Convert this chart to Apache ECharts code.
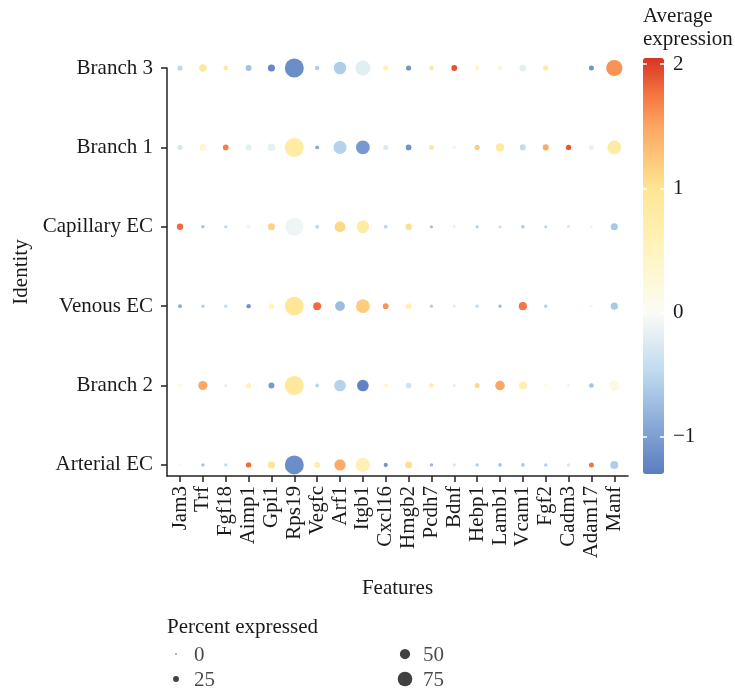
<!DOCTYPE html>
<html>
<head>
<meta charset="utf-8">
<script src="https://cdn.jsdelivr.net/npm/echarts@6/dist/echarts.min.js"></script>
<style>
  html, body { margin: 0; padding: 0; background: #fff; }
  #chart { width: 735px; height: 691px; }
</style>
</head>
<body>
<div id="chart"></div>
<script>
// Genes along the x axis, cell groups along the y axis (bottom to top)
const features = ['Jam3','Trf','Fgf18','Aimp1','Gpi1','Rps19','Vegfc','Arf1','Itgb1','Cxcl16',
                  'Hmgb2','Pcdh7','Bdnf','Hebp1','Lamb1','Vcam1','Fgf2','Cadm3','Adam17','Manf'];
const identities = ['Arterial EC','Branch 2','Venous EC','Capillary EC','Branch 1','Branch 3'];

// Percent of cells expressing each gene, per identity
const pctArterial  = [12,10,9,22,31,100,25,56,74,15,30,11,9,11,12,12,11,9,20,37];
const pctBranch2   = [14,44,9,20,26,100,14,58,58,14,24,17,9,20,46,38,10,8,18,53];
const pctVenous    = [13,10,9,17,24,98,37,47,70,24,25,10,8,10,9,38,10,4,8,32];
const pctCapillary = [28,11,10,14,32,95,14,53,63,14,28,10,8,10,10,12,10,8,8,32];
const pctBranch1   = [20,30,24,24,35,100,14,67,70,20,24,20,10,21,38,26,26,21,20,70];
const pctBranch3   = [21,35,17,25,32,100,17,63,77,21,21,17,25,16,20,30,20,3,20,84];

// Average scaled expression, per identity
const avgArterial  = [0.15,-0.7,-0.5,1.8,1.0,-1.15,0.75,1.45,0.6,-1.1,1.05,-0.8,-0.3,-0.6,-0.7,-0.65,-0.6,-0.3,1.75,-0.6];
const avgBranch2   = [0.2,1.5,-0.2,0.6,-1.05,0.9,-0.5,-0.55,-1.25,0.4,-0.35,0.8,-0.15,1.1,1.5,0.65,0.2,-0.1,-0.7,0.15];
const avgVenous    = [-0.9,-0.6,-0.5,-1.1,0.5,0.95,1.8,-0.75,1.2,1.6,0.6,-0.6,-0.2,-0.5,-0.8,1.75,-0.6,0,0.4,-0.65];
const avgCapillary = [1.8,-0.7,-0.5,-0.1,1.15,-0.1,-0.5,1.1,0.8,-0.5,1.05,-0.7,-0.2,-0.6,-0.4,-0.6,-0.5,-0.3,0.4,-0.65];
const avgBranch1   = [-0.3,0.3,1.7,-0.2,-0.15,0.8,-0.9,-0.55,-1.05,-0.25,-1.1,0.9,-0.1,1.2,0.85,-0.45,1.45,1.9,-0.15,0.8];
const avgBranch3   = [-0.5,0.9,0.9,-0.7,-1.2,-1.15,-0.6,-0.6,-0.2,0.6,-1.1,0.9,1.9,0.5,0.3,-0.2,0.9,0,-1.1,1.6];

// Size legend entries and colour bar ticks
const sizeBreaks = [0, 25, 50, 75];
const colorTicks = [-1, 0, 1, 2];
const colorMin = -1.3, colorMax = 2.05;

const pctRows = [pctArterial, pctBranch2, pctVenous, pctCapillary, pctBranch1, pctBranch3];
const avgRows = [avgArterial, avgBranch2, avgVenous, avgCapillary, avgBranch1, avgBranch3];

const dots = [];
identities.forEach((id, r) => {
  features.forEach((f, c) => {
    dots.push([c, r, pctRows[r][c], avgRows[r][c]]);
  });
});

// Diverging palette anchors (value -> colour), resampled evenly for the visual map
const anchors = [
  [-1.3, [90,125,192]],
  [-1.0, [125,159,210]],
  [-0.5, [188,216,238]],
  [0.0,  [250,252,246]],
  [0.5,  [255,244,189]],
  [1.0,  [254,229,147]],
  [1.5,  [252,166,98]],
  [1.75, [245,118,66]],
  [2.05, [215,52,36]]
];
function colorAt(v) {
  for (let i = 0; i < anchors.length - 1; i++) {
    const [a, ca] = anchors[i], [b, cb] = anchors[i + 1];
    if (v >= a && v <= b) {
      const t = (v - a) / (b - a);
      const c = ca.map((x, k) => Math.round(x + (cb[k] - x) * t));
      return 'rgb(' + c.join(',') + ')';
    }
  }
  const c = v < anchors[0][0] ? anchors[0][1] : anchors[anchors.length - 1][1];
  return 'rgb(' + c.join(',') + ')';
}
const nStops = 68;
const gradient = [];
for (let i = 0; i < nStops; i++) {
  gradient.push(colorAt(colorMin + (colorMax - colorMin) * i / (nStops - 1)));
}

const FONT = "'Liberation Serif', 'DejaVu Serif', serif";
const INK = '#1a1a1a';
const FS = 21;
const sizeOf = p => 1.5 + 0.175 * p;
const fmtSigned = v => (v < 0 ? '\u2212' + Math.abs(v) : String(v));

const chart = echarts.init(document.getElementById('chart'), null, { renderer: 'canvas' });

chart.setOption({
  animation: false,
  backgroundColor: '#fff',
  title: [
    { text: 'Average\nexpression', left: 643, top: 5, padding: 0,
      textStyle: { fontFamily: FONT, fontSize: FS, fontWeight: 'normal', color: INK, lineHeight: 23 } },
    { text: 'Percent expressed', left: 167, top: 617, padding: 0,
      textStyle: { fontFamily: FONT, fontSize: FS, fontWeight: 'normal', color: INK } }
  ],
  grid: [
    { left: 167, right: 107, top: 68, bottom: 215 },
    { left: 176, width: 229, top: 654, height: 25 },
    { left: 643, width: 21, top: 58, height: 416 }
  ],
  xAxis: [
    {
      gridIndex: 0, type: 'value', min: -0.57, max: 19.6,
      name: 'Features', nameLocation: 'middle', nameGap: 102,
      nameTextStyle: { fontFamily: FONT, fontSize: FS, color: INK },
      splitLine: { show: false },
      axisLine: { show: true, onZero: false, lineStyle: { color: '#222', width: 1.5 } },
      axisTick: { show: true, customValues: features.map((f, i) => i), length: 6,
                  lineStyle: { color: '#222', width: 1.5 } },
      axisLabel: { customValues: features.map((f, i) => i), rotate: 90, margin: 10,
                   fontFamily: FONT, fontSize: FS, color: INK,
                   formatter: v => features[Math.round(v)] }
    },
    { gridIndex: 1, type: 'value', min: 0, max: 1, show: false },
    { gridIndex: 2, type: 'value', min: 0, max: 1, show: false }
  ],
  yAxis: [
    {
      gridIndex: 0, type: 'value', min: -0.14, max: 5,
      name: 'Identity', nameLocation: 'middle', nameGap: 120, nameRotate: 90,
      nameTextStyle: { fontFamily: FONT, fontSize: FS, color: INK },
      splitLine: { show: false },
      axisLine: { show: true, onZero: false, lineStyle: { color: '#222', width: 1.5 } },
      axisTick: { show: true, customValues: identities.map((d, i) => i), length: 6,
                  lineStyle: { color: '#222', width: 1.5 } },
      axisLabel: { customValues: identities.map((d, i) => i), margin: 14,
                   fontFamily: FONT, fontSize: FS, color: INK,
                   formatter: v => identities[Math.round(v)] }
    },
    { gridIndex: 1, type: 'value', min: 0, max: 1, inverse: true, show: false },
    {
      gridIndex: 2, type: 'value', min: colorMin, max: colorMax, position: 'right', z: 10,
      splitLine: { show: false },
      axisLine: { show: false, onZero: false },
      axisTick: { show: true, inside: true, length: 4, customValues: colorTicks,
                  lineStyle: { color: '#fff', width: 1.5 } },
      axisLabel: { customValues: colorTicks, margin: 9, fontFamily: FONT, fontSize: FS, color: INK,
                   formatter: fmtSigned }
    },
    {
      gridIndex: 2, type: 'value', min: colorMin, max: colorMax, position: 'left', z: 10,
      splitLine: { show: false },
      axisLine: { show: false, onZero: false },
      axisTick: { show: true, inside: true, length: 4, customValues: colorTicks,
                  lineStyle: { color: '#fff', width: 1.5 } },
      axisLabel: { show: false }
    }
  ],
  visualMap: {
    type: 'continuous', seriesIndex: 0, dimension: 3,
    min: colorMin, max: colorMax, calculable: false, hoverLink: false,
    orient: 'vertical', left: 643, top: 58, itemWidth: 21, itemHeight: 416,
    padding: 0, text: null, showLabel: false,
    inRange: { color: gradient },
    textStyle: { color: 'transparent' }
  },
  series: [
    {
      type: 'scatter', xAxisIndex: 0, yAxisIndex: 0,
      data: dots,
      symbolSize: v => sizeOf(v[2]),
      itemStyle: { opacity: 1 },
      silent: true
    },
    {
      type: 'scatter', xAxisIndex: 1, yAxisIndex: 1,
      data: sizeBreaks.map((p, i) => [Math.floor(i / 2), i % 2, p]),
      symbolSize: v => sizeOf(v[2]),
      itemStyle: { color: '#111' },
      silent: true,
      label: {
        show: true, position: 'inside', align: 'left', offset: [18, 1],
        fontFamily: FONT, fontSize: FS, color: INK,
        formatter: p => String(p.value[2])
      }
    }
  ]
});
</script>
</body>
</html>
